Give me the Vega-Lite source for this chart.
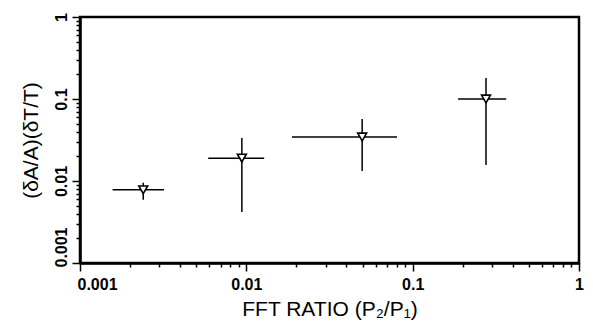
{
  "$schema": "https://vega.github.io/schema/vega-lite/v6.json",
  "width": 499,
  "height": 246,
  "autosize": "none",
  "padding": {"left": 80, "top": 17, "right": 14, "bottom": 64},
  "background": "white",
  "config": {
    "view": {"stroke": "black", "strokeWidth": 2.5},
    "font": "Liberation Sans",
    "axis": {
      "grid": false,
      "domainColor": "black",
      "domainWidth": 2.5,
      "tickColor": "black",
      "tickWidth": 1.5,
      "labelColor": "black",
      "titleColor": "black",
      "labelFont": "Liberation Sans",
      "titleFont": "Liberation Sans",
      "labelFontSize": 16,
      "labelFontWeight": "bold",
      "titleFontSize": 21,
      "titleFontWeight": "normal"
    }
  },
  "data": {
    "values": [
      {"x": 0.0024, "xlo": 0.00157, "xhi": 0.0032, "y": 0.0078, "ylo": 0.0059, "yhi": 0.0095},
      {"x": 0.0094, "xlo": 0.0059, "xhi": 0.0128, "y": 0.019, "ylo": 0.0042, "yhi": 0.0335},
      {"x": 0.0497, "xlo": 0.0188, "xhi": 0.0805, "y": 0.0344, "ylo": 0.0132, "yhi": 0.057},
      {"x": 0.276, "xlo": 0.1875, "xhi": 0.365, "y": 0.1, "ylo": 0.0157, "yhi": 0.18}
    ]
  },
  "layer": [
    {
      "mark": {"type": "rule", "color": "black", "strokeWidth": 1.5},
      "encoding": {
        "x": {
          "field": "xlo", "type": "quantitative",
          "scale": {"type": "log", "domain": [0.001, 1], "nice": false},
          "axis": {
            "title": "FFT RATIO (P₂/P₁)",
            "values": [0.001,0.002,0.003,0.004,0.005,0.006,0.007,0.008,0.009,0.01,0.02,0.03,0.04,0.05,0.06,0.07,0.08,0.09,0.1,0.2,0.3,0.4,0.5,0.6,0.7,0.8,0.9,1],
            "labelExpr": "abs(log(datum.value)/LN10 - round(log(datum.value)/LN10)) < 0.001 ? format(datum.value, '~g') : ''",
            "tickSize": {"condition": {"test": "abs(log(datum.value)/LN10 - round(log(datum.value)/LN10)) < 0.001", "value": 8}, "value": 4},
            "labelAlign": {"condition": {"test": "datum.value < 0.0015", "value": "left"}, "value": "center"},
            "labelOffset": {"condition": {"test": "datum.value < 0.0015", "value": -3}, "value": 0},
            "labelPadding": 5,
            "titlePadding": 6,
            "labelOverlap": false
          }
        },
        "x2": {"field": "xhi"},
        "y": {
          "field": "y", "type": "quantitative",
          "scale": {"type": "log", "domain": [0.001, 1], "nice": false},
          "axis": {
            "title": "(δA/A)(δT/T)",
            "values": [0.001,0.002,0.003,0.004,0.005,0.006,0.007,0.008,0.009,0.01,0.02,0.03,0.04,0.05,0.06,0.07,0.08,0.09,0.1,0.2,0.3,0.4,0.5,0.6,0.7,0.8,0.9,1],
            "labelExpr": "abs(log(datum.value)/LN10 - round(log(datum.value)/LN10)) < 0.001 ? format(datum.value, '~g') : ''",
            "tickSize": {"condition": {"test": "abs(log(datum.value)/LN10 - round(log(datum.value)/LN10)) < 0.001", "value": 8}, "value": 4},
            "labelAngle": 270,
            "labelAlign": "center",
            "labelBaseline": "bottom",
            "labelOffset": {"condition": {"test": "datum.value < 0.0015", "value": -16}, "value": 0},
            "labelPadding": 3,
            "titlePadding": 12,
            "labelOverlap": false
          }
        }
      }
    },
    {
      "mark": {"type": "rule", "color": "black", "strokeWidth": 1.5},
      "encoding": {
        "x": {"field": "x", "type": "quantitative"},
        "y": {"field": "ylo", "type": "quantitative"},
        "y2": {"field": "yhi"}
      }
    },
    {
      "mark": {"type": "point", "shape": "triangle-down", "filled": true, "fill": "white", "stroke": "black", "strokeWidth": 1.6, "size": 80, "opacity": 1},
      "encoding": {
        "x": {"field": "x", "type": "quantitative"},
        "y": {"field": "y", "type": "quantitative"}
      }
    }
  ]
}
